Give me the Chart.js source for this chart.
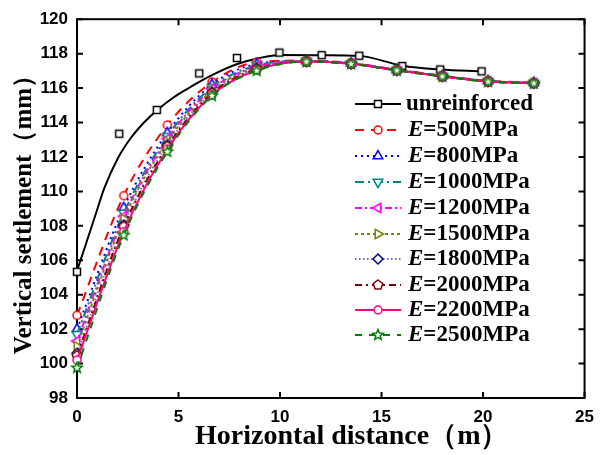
<!DOCTYPE html>
<html>
<head>
<meta charset="utf-8">
<script src="https://cdn.jsdelivr.net/npm/chart.js@4.4.1/dist/chart.umd.min.js"></script>
<style>
html, body { margin: 0; padding: 0; background: #fff; }
#wrap { width: 603px; height: 455px; }
</style>
</head>
<body>
<div id="wrap"><canvas id="chart" width="603" height="455"></canvas></div>
<script>
// ticks
const xTicks = [0, 5, 10, 15, 20, 25];
const yTicks = [98, 100, 102, 104, 106, 108, 110, 112, 114, 116, 118, 120];

// unreinforced: measured points and the fitted curve drawn through them
const unrfX = [0, 2.08, 3.93, 6.02, 7.88, 9.97, 12.05, 13.9, 16.02, 17.89, 19.93];
const unrfY = [105.33, 113.35, 114.73, 116.85, 117.75, 118.06, 117.91, 117.88, 117.28, 117.08, 116.97];
const unrfLineX = [0, 0.4, 0.9, 1.35, 2.0, 2.65, 3.3, 3.93, 4.75, 5.5, 6.0, 6.9, 7.9, 9.0, 10.0, 12.05, 13.9, 16.02, 17.89, 19.93];
const unrfLineY = [105.4, 106.8, 108.6, 110.2, 111.9, 113.1, 114.0, 114.7, 115.45, 116.0, 116.35, 116.9, 117.4, 117.75, 117.92, 117.91, 117.87, 117.3, 117.08, 116.97];

// reinforced cases
const reinfX = [0, 2.3, 4.45, 6.65, 8.85, 11.3, 13.5, 15.75, 18, 20.25, 22.5];
const moduli = ['500', '800', '1000', '1200', '1500', '1800', '2000', '2200', '2500'];
const e500  = [102.8, 109.75, 113.85, 116.35, 117.5, 117.6, 117.45, 117.07, 116.72, 116.42, 116.32];
const e800  = [102.0, 109.05, 113.4, 116.2, 117.4, 117.58, 117.44, 117.06, 116.71, 116.41, 116.31];
const e1000 = [101.7, 108.75, 113.2, 116.05, 117.32, 117.57, 117.43, 117.05, 116.7, 116.4, 116.3];
const e1200 = [101.3, 108.55, 113.05, 115.95, 117.26, 117.56, 117.43, 117.05, 116.7, 116.4, 116.3];
const e1500 = [101.0, 108.4, 112.9, 115.85, 117.2, 117.55, 117.42, 117.04, 116.69, 116.39, 116.29];
const e1800 = [100.6, 108.05, 112.7, 115.75, 117.15, 117.55, 117.42, 117.04, 116.69, 116.39, 116.29];
const e2000 = [100.45, 107.95, 112.6, 115.7, 117.1, 117.54, 117.41, 117.03, 116.68, 116.38, 116.28];
const e2200 = [100.2, 107.65, 112.45, 115.6, 117.05, 117.54, 117.41, 117.03, 116.68, 116.38, 116.28];
const e2500 = [99.75, 107.45, 112.3, 115.55, 117.0, 117.53, 117.4, 117.02, 116.67, 116.37, 116.27];
const eValues = [e500, e800, e1000, e1200, e1500, e1800, e2000, e2200, e2500];

// styles per series
const lineColors = ['#ff0000', '#0000ff', '#008080', '#ff00ff', '#808000', '#6a6ad8', '#800000', '#ff0080', '#008000'];
const markColors = ['#ff0000', '#0000ff', '#008080', '#ff00ff', '#808000', '#000080', '#800000', '#ff0080', '#008000'];
const dashes = [[9, 7], [2, 4], [9, 4, 2, 4], [7, 3, 2, 3], [3, 3], [1.5, 2.5], [7, 4, 2, 4], [], [7, 7]];
const shapes = ['circle', 'tri', 'tri', 'tri', 'tri', 'diamond', 'pent', 'circle', 'star'];
const rotations = [0, 0, 180, -90, 90, 0, 0, 0, 0];

function marker(shape, color, rot) {
  const s = 16;
  const c = document.createElement('canvas');
  c.width = s; c.height = s;
  const g = c.getContext('2d');
  g.translate(s / 2, s / 2);
  g.rotate(rot * Math.PI / 180);
  g.beginPath();
  let n = 0, r = 5, inner = 0;
  if (shape === 'circle') g.arc(0, 0, 4, 0, Math.PI * 2);
  else if (shape === 'square') g.rect(-3.5, -3.5, 7, 7);
  else {
    if (shape === 'tri') { n = 3; r = 5.5; }
    if (shape === 'diamond') { n = 4; r = 5; }
    if (shape === 'pent') { n = 5; r = 5; }
    if (shape === 'star') { n = 5; r = 5.5; inner = 2.4; }
    const pts = inner ? n * 2 : n;
    for (let i = 0; i < pts; i++) {
      const a = -Math.PI / 2 + i * 2 * Math.PI / pts;
      const rr = inner && i % 2 ? inner : r;
      if (i === 0) g.moveTo(rr * Math.cos(a), rr * Math.sin(a));
      else g.lineTo(rr * Math.cos(a), rr * Math.sin(a));
    }
    g.closePath();
  }
  g.fillStyle = '#fff';
  g.fill();
  g.lineWidth = 1.5;
  g.strokeStyle = color;
  g.stroke();
  return c;
}

const squareMark = marker('square', '#000', 0);
const eMarks = shapes.map((s, i) => marker(s, markColors[i], rotations[i]));

function pairs(xs, ys) {
  return xs.map((x, i) => ({ x: x, y: ys[i] }));
}

const datasets = [
  {
    data: pairs(unrfLineX, unrfLineY),
    borderColor: '#000', borderWidth: 2, pointRadius: 0,
    cubicInterpolationMode: 'monotone', order: 20, clip: false
  },
  {
    data: pairs(unrfX, unrfY),
    showLine: false, pointStyle: squareMark, pointRadius: 5, order: 19, clip: false
  }
];
eValues.forEach((vals, i) => {
  datasets.push({
    data: pairs(reinfX, vals),
    borderColor: lineColors[i], borderWidth: 2, borderDash: dashes[i],
    pointStyle: eMarks[i], pointRadius: 5,
    cubicInterpolationMode: 'monotone', order: 10 - i, clip: false
  });
});

// box and inward ticks on all four sides
const framePlugin = {
  id: 'frame',
  beforeDatasetsDraw(chart) {
    const { ctx, chartArea: a, scales } = chart;
    ctx.save();
    ctx.strokeStyle = '#000';
    ctx.lineWidth = 2;
    ctx.strokeRect(a.left, a.top, a.right - a.left, a.bottom - a.top);
    ctx.beginPath();
    xTicks.forEach(v => {
      const px = scales.x.getPixelForValue(v);
      ctx.moveTo(px, a.bottom); ctx.lineTo(px, a.bottom - 6);
      ctx.moveTo(px, a.top); ctx.lineTo(px, a.top + 6);
    });
    yTicks.forEach(v => {
      const py = scales.y.getPixelForValue(v);
      ctx.moveTo(a.left, py); ctx.lineTo(a.left + 6, py);
      ctx.moveTo(a.right, py); ctx.lineTo(a.right - 6, py);
    });
    ctx.stroke();
    ctx.restore();
  }
};

// legend: line sample with marker in the middle, then the label
const legendRows = [104, 130, 156, 182, 208, 234, 259, 285, 310, 335];
const legendPlugin = {
  id: 'sideLegend',
  afterDraw(chart) {
    const ctx = chart.ctx;
    ctx.save();
    ctx.textBaseline = 'middle';
    ctx.fillStyle = '#000';
    for (let i = 0; i < 10; i++) {
      const y = legendRows[i];
      const color = i === 0 ? '#000' : lineColors[i - 1];
      ctx.strokeStyle = color;
      ctx.lineWidth = 2;
      ctx.setLineDash(i === 0 ? [] : dashes[i - 1]);
      ctx.beginPath();
      ctx.moveTo(355, y); ctx.lineTo(401, y);
      ctx.stroke();
      ctx.setLineDash([]);
      const m = i === 0 ? squareMark : eMarks[i - 1];
      ctx.drawImage(m, 378 - m.width / 2, y - m.height / 2);
      ctx.fillStyle = '#000';
      if (i === 0) {
        ctx.font = 'bold 23px "Liberation Serif"';
        ctx.fillText('unreinforced', 406, y);
      } else {
        ctx.font = 'italic bold 23px "Liberation Serif"';
        ctx.fillText('E', 408, y);
        const w = ctx.measureText('E').width;
        ctx.font = 'bold 23px "Liberation Serif"';
        ctx.fillText('=' + moduli[i - 1] + 'MPa', 408 + w, y);
      }
    }
    ctx.restore();
  }
};

new Chart(document.getElementById('chart'), {
  type: 'line',
  data: { datasets: datasets },
  plugins: [framePlugin, legendPlugin],
  options: {
    responsive: false,
    animation: false,
    events: [],
    layout: { padding: { left: 0, right: 8, top: 15, bottom: 0 } },
    plugins: { legend: { display: false }, tooltip: { enabled: false } },
    scales: {
      x: {
        type: 'linear', min: 0, max: 25,
        afterFit(scale) { scale.height = 57; },
        grid: { display: false, drawTicks: false },
        border: { display: false },
        ticks: {
          stepSize: 5, padding: 9, color: '#000',
          font: { family: '"Liberation Sans"', size: 17, weight: 'bold' }
        },
        title: {
          display: true, text: '\u2003\u2002Horizontal distance（m）', color: '#000',
          font: { family: '"Liberation Serif"', size: 28, weight: 'bold' },
          padding: { top: 2, bottom: 1 }
        }
      },
      y: {
        type: 'linear', min: 98, max: 120,
        afterFit(scale) { scale.width = 77; },
        grid: { display: false, drawTicks: false },
        border: { display: false },
        ticks: {
          stepSize: 2, padding: 9, color: '#000',
          font: { family: '"Liberation Sans"', size: 17, weight: 'bold' }
        },
        title: {
          display: true, text: 'Vertical settlement（mm）', color: '#000',
          font: { family: '"Liberation Serif"', size: 25, weight: 'bold' },
          padding: { top: 10, bottom: 10 }
        }
      }
    }
  }
});
</script>
</body>
</html>
